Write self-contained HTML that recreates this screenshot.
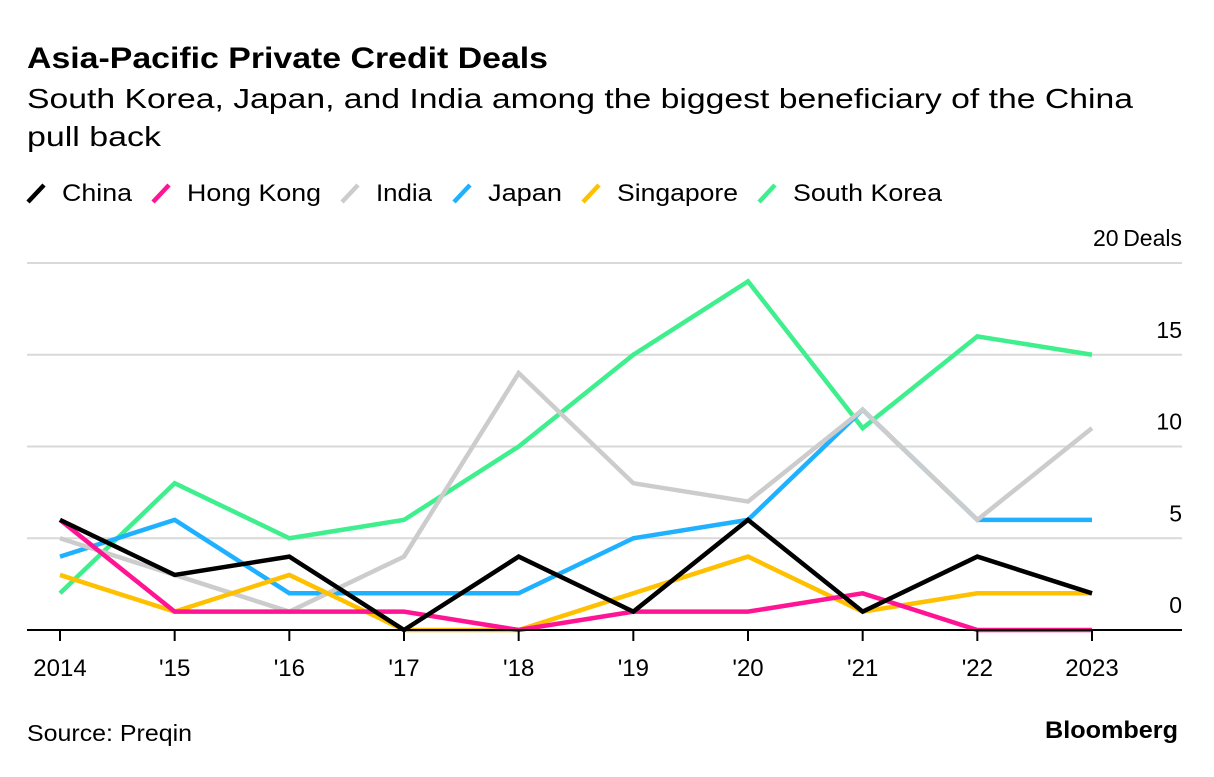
<!DOCTYPE html>
<html><head><meta charset="utf-8"><style>
body{margin:0;background:#fff;font-family:"Liberation Sans",sans-serif;}
svg text{font-family:"Liberation Sans",sans-serif;}
</style></head><body>
<svg width="1214" height="772">
<text x="27" y="68" font-size="30" font-weight="bold" fill="#000" textLength="521" lengthAdjust="spacingAndGlyphs">Asia-Pacific Private Credit Deals</text>
<text x="27" y="108" font-size="28" fill="#000" textLength="1106" lengthAdjust="spacingAndGlyphs">South Korea, Japan, and India among the biggest beneficiary of the China</text>
<text x="27" y="146" font-size="28" fill="#000" textLength="134" lengthAdjust="spacingAndGlyphs">pull back</text>
<g id="legend"></g>
<g id="grid"></g>
<g id="series"></g>
<g id="xaxis"></g>
<text x="27" y="741" font-size="23" fill="#000" textLength="165" lengthAdjust="spacingAndGlyphs">Source: Preqin</text>
<text x="1178" y="738" font-size="24" font-weight="bold" fill="#000" text-anchor="end" textLength="133" lengthAdjust="spacingAndGlyphs">Bloomberg</text>
</svg>
<script>
const years = ["2014","'15","'16","'17","'18","'19","'20","'21","'22","2023"];
const yTicks = [0,5,10,15,20];
const seriesNames = ["China","Hong Kong","India","Japan","Singapore","South Korea"];
const seriesColors = ["#000000","#ff1493","#cccccc","#1fb1ff","#ffc000","#3fef8e"];
const china = [6,3,4,0,4,1,6,1,4,2];
const hongKong = [6,1,1,1,0,1,1,2,0,0];
const india = [5,3,1,4,14,8,7,12,6,11];
const japan = [4,6,2,2,2,5,6,12,6,6];
const singapore = [3,1,3,0,0,2,4,1,2,2];
const southKorea = [2,8,5,6,10,15,19,11,16,15];
const allSeries = [china,hongKong,india,japan,singapore,southKorea];

const NS="http://www.w3.org/2000/svg";
const x0=60,x1=1092,yZero=630,yTop=263;
const xs=i=>x0+(x1-x0)*i/(years.length-1);
const ys=v=>yZero-(yZero-yTop)*v/20;
function mk(tag,attrs,parent){const e=document.createElementNS(NS,tag);for(const k in attrs)e.setAttribute(k,attrs[k]);parent.appendChild(e);return e;}

const grid=document.getElementById('grid');
yTicks.forEach(t=>{
  if(t>0){const l=mk('line',{x1:27,x2:1182,y1:ys(t),y2:ys(t),stroke:'#d9d9d9','stroke-width':2},grid);
  
  }
  const tx=mk('text',{x:1182,y:ys(t)-17,'font-size':23,'text-anchor':'end',fill:'#000'},grid);
  tx.textContent = t===20 ? '20\u2009Deals' : String(t);
  
  
});

const ser=document.getElementById('series');
const order=[5,3,2,4,1,0];
order.forEach(si=>{
  const pts=allSeries[si].map((v,i)=>xs(i)+','+ys(v)).join(' ');
  const p=mk('polyline',{points:pts,fill:'none',stroke:seriesColors[si],'stroke-width':4.5,'stroke-linejoin':'miter'},ser);
  
  
});

const xa=document.getElementById('xaxis');
const ax=mk('line',{x1:27,x2:1182,y1:yZero,y2:yZero,stroke:'#000','stroke-width':2},xa);


years.forEach((y,i)=>{
  const tk=mk('line',{x1:xs(i),x2:xs(i),y1:yZero,y2:yZero+11,stroke:'#000','stroke-width':2},xa);
  
  
  const t=mk('text',{x:xs(i),y:676,'font-size':24,'text-anchor':'middle',fill:'#000'},xa);
  t.textContent=y;
  
  
});

const lg=document.getElementById('legend');
const lx=[28,153,342,454,583,759];
const lw=[70,134,56,74,121,149];
seriesNames.forEach((n,i)=>{
  const l=mk('line',{x1:lx[i],y1:202,x2:lx[i]+16,y2:185,stroke:seriesColors[i],'stroke-width':4.5},lg);
  
  
  const t=mk('text',{x:lx[i]+34,y:201,'font-size':24,fill:'#000',textLength:lw[i],lengthAdjust:'spacingAndGlyphs'},lg);
  t.textContent=n;
  
  
});
</script>
</body></html>
